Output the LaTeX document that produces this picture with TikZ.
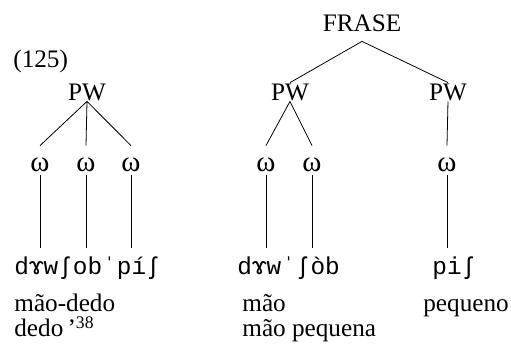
\documentclass[tikz,border=0pt]{standalone}
\usepackage{fontspec}
\setmainfont{Liberation Serif}
\setmonofont{Liberation Mono}
\usepackage{tikz}

\begin{document}
\begin{tikzpicture}[x=0.5pt,y=-0.5pt,font=\fontsize{12.6}{15}\selectfont,
  every node/.style={inner sep=0pt},
  cat/.style={anchor=base,text height=9pt,text depth=0pt},
  syl/.style={anchor=base,text height=13pt,text depth=1.5pt,font=\fontsize{14.5}{16}\selectfont},
  txt/.style={anchor=base west},
  ipa/.style={anchor=base west,font=\fontsize{12.2}{14}\ttfamily}]
\useasboundingbox (0,0) rectangle (511,353);
% left hand
\node[txt] (ex) at (13,68) {(125)};
\node[cat] (pwa) at (87,101) {PW};
\node[syl] (wa) at (40,172) {ω};
\node[syl] (wb) at (86,172) {ω};
\node[syl] (wc) at (131,172) {ω};
\coordinate (ea) at (40,248);
\coordinate (eb) at (86,248);
\coordinate (ec) at (131,248);
\draw (pwa.south) -- (wa.north) (pwa.south) -- (wb.north) (pwa.south) -- (wc.north);
\draw (wa.south) -- (ea) (wb.south) -- (eb) (wc.south) -- (ec);
\node[ipa] (ipaa) at (14,275) {dɤwʃobˈpíʃ};
\node[txt] (gla) at (14,312) {mão-dedo};
\node[txt] (glb) at (14,337) {dedo\,’\textsuperscript{38}};
% right hand
\node[anchor=base,text depth=4.5pt] (fr) at (362,32) {FRASE};
\node[cat] (pwb) at (290,101) {PW};
\node[cat] (pwc) at (448,101) {PW};
\draw (fr.south) -- (pwb.north) (fr.south) -- (pwc.north);
\node[syl] (wd) at (266,172) {ω};
\node[syl] (we) at (312,172) {ω};
\node[syl] (wf) at (447,172) {ω};
\coordinate (ed) at (266,248);
\coordinate (ee) at (312,248);
\coordinate (ef) at (447,248);
\draw (pwb.south) -- (wd.north) (pwb.south) -- (we.north) (pwc.south) -- (wf.north);
\draw (wd.south) -- (ed) (we.south) -- (ee) (wf.south) -- (ef);
\node[ipa] (ipab) at (237,275) {dɤwˈʃòb};
\node[ipa] (ipac) at (432,275) {piʃ};
\node[txt] (glc) at (242,312) {mão};
\node[txt] (gld) at (423,312) {pequeno};
\node[txt] (gle) at (242,337) {mão pequena};
\end{tikzpicture}
\end{document}
